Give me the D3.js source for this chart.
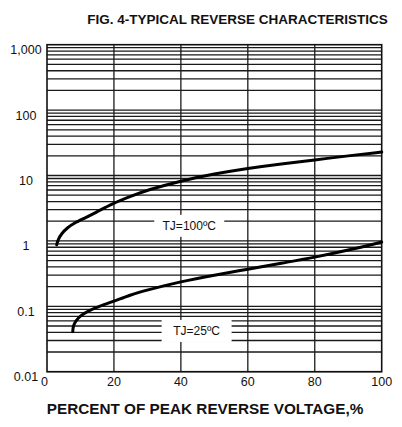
<!DOCTYPE html>
<html>
<head>
<meta charset="utf-8">
<script src="https://cdn.jsdelivr.net/npm/d3@7"></script>
<style>
	body { margin: 0; background: #fff; }
	svg { display: block; font-family: "Liberation Sans", Arial, sans-serif; }
</style>
</head>
<body>
<div id="chart"></div>
<script>

// percent of peak reverse voltage vs reverse current
var voltage100 = [2.9, 3.3, 4.4, 6.0, 8.2, 11, 14.5, 19.8, 25, 30, 40, 50, 60, 70, 80, 90, 100];
var current100 = [0.87, 1.05, 1.3, 1.58, 1.88, 2.2, 2.7, 3.77, 4.8, 6.0, 8.3, 10.6, 12.9, 15.1, 17.3, 20, 22.8];

var voltage25 = [7.7, 7.8, 8.6, 10.0, 12.5, 16.0, 19.8, 24.8, 30, 40, 50, 60, 70, 80, 90, 100];
var current25 = [0.041, 0.05, 0.06, 0.072, 0.086, 0.102, 0.118, 0.149, 0.178, 0.239, 0.3, 0.369, 0.457, 0.56, 0.72, 0.96];

var xTicks = [0, 20, 40, 60, 80, 100];
var yTicks = [0.01, 0.1, 1, 10, 100, 1000];
var yTickLabels = ["0.01", "0.1", "1", "10", "100", "1,000"];

var curveLabels = ["TJ=100ºC", "TJ=25ºC"];
var labelVoltage = [42.5, 44.7];
var labelCurrent = [1.7, 0.042];

var title = "FIG. 4-TYPICAL REVERSE CHARACTERISTICS";
var xTitle = "PERCENT OF PEAK REVERSE VOLTAGE,%";


var width = 402, height = 427;
var margin = {top: 44.7, right: 20.3, bottom: 55.3, left: 47};

var svg = d3.select("#chart")
	.append("svg")
	.attr("width", width)
	.attr("height", height);

var x = d3.scaleLinear()
	.domain([0, 100])
	.range([margin.left, width - margin.right]);

var y = d3.scaleLog()
	.domain([0.01, 1000])
	.range([height - margin.bottom, margin.top]);

// minor + major horizontal grid: 1..9 of each decade
var hLines = [];
for (var d = 0.01; d < 1000; d *= 10)
{
	for (var k = 1; k < 10; k++) hLines.push(+(d * k).toPrecision(3));
}

var grid = svg.append("g")
	.attr("class", "grid")
	.attr("stroke", "#1a1a1a")
	.attr("stroke-width", 1.3);

grid.selectAll("line.h")
	.data(hLines)
	.enter()
	.append("line")
	.attr("class", "h")
	.attr("x1", x(0))
	.attr("x2", x(100))
	.attr("y1", function(v) { return y(v); })
	.attr("y2", function(v) { return y(v); });

grid.selectAll("line.v")
	.data(xTicks.slice(1, -1))
	.enter()
	.append("line")
	.attr("class", "v")
	.attr("x1", function(v) { return x(v); })
	.attr("x2", function(v) { return x(v); })
	.attr("y1", y(1000))
	.attr("y2", y(0.01));

// frame
svg.append("rect")
	.attr("x", x(0))
	.attr("y", y(1000))
	.attr("width", x(100) - x(0))
	.attr("height", y(0.01) - y(1000))
	.attr("fill", "none")
	.attr("stroke", "#111")
	.attr("stroke-width", 1.6);

// curve label boxes knock out the grid
var labels = svg.append("g")
	.attr("class", "curve-labels");

var lab = labels.selectAll("g")
	.data(curveLabels)
	.enter()
	.append("g")
	.attr("transform", function(t, i) { return "translate(" + x(labelVoltage[i]) + "," + y(labelCurrent[i]) + ")"; });

lab.append("rect")
	.attr("x", -35)
	.attr("y", -11)
	.attr("width", 70)
	.attr("height", 22)
	.attr("fill", "#fff");

lab.append("text")
	.attr("text-anchor", "middle")
	.attr("dy", "0.36em")
	.attr("font-size", 12)
	.attr("fill", "#111")
	.text(function(t) { return t; });

// curves
var line = d3.line()
	.x(function(p) { return x(p[0]); })
	.y(function(p) { return y(p[1]); })
	.curve(d3.curveBasis);

var series = [d3.zip(voltage100, current100), d3.zip(voltage25, current25)];

svg.append("g")
	.attr("class", "series")
	.selectAll("path")
	.data(series)
	.enter()
	.append("path")
	.attr("d", line)
	.attr("fill", "none")
	.attr("stroke", "#000")
	.attr("stroke-width", 3)
	.attr("stroke-linecap", "round");

// tick labels
svg.append("g")
	.attr("class", "yLabels")
	.selectAll("text")
	.data(yTicks)
	.enter()
	.append("text")
	.attr("x", 26)
	.attr("y", function(v) { return y(v) + 5; })
	.attr("dy", "0.36em")
	.attr("text-anchor", "middle")
	.attr("font-size", 12.5)
	.attr("fill", "#111")
	.text(function(v, i) { return yTickLabels[i]; });

svg.append("g")
	.attr("class", "xLabels")
	.selectAll("text")
	.data(xTicks)
	.enter()
	.append("text")
	.attr("x", function(v) { return v === 0 ? x(v) - 2.5 : x(v); })
	.attr("y", y(0.01) + 14.5)
	.attr("text-anchor", "middle")
	.attr("font-size", 12.5)
	.attr("fill", "#111")
	.text(function(v) { return v; });

svg.append("text")
	.attr("x", 237.5)
	.attr("y", 24)
	.attr("text-anchor", "middle")
	.attr("font-size", 13.5)
	.attr("font-weight", "bold")
	.attr("fill", "#111")
	.text(title);

svg.append("text")
	.attr("x", 205)
	.attr("y", 414)
	.attr("text-anchor", "middle")
	.attr("font-size", 15.3)
	.attr("font-weight", "bold")
	.attr("fill", "#111")
	.text(xTitle);

</script>
</body>
</html>
